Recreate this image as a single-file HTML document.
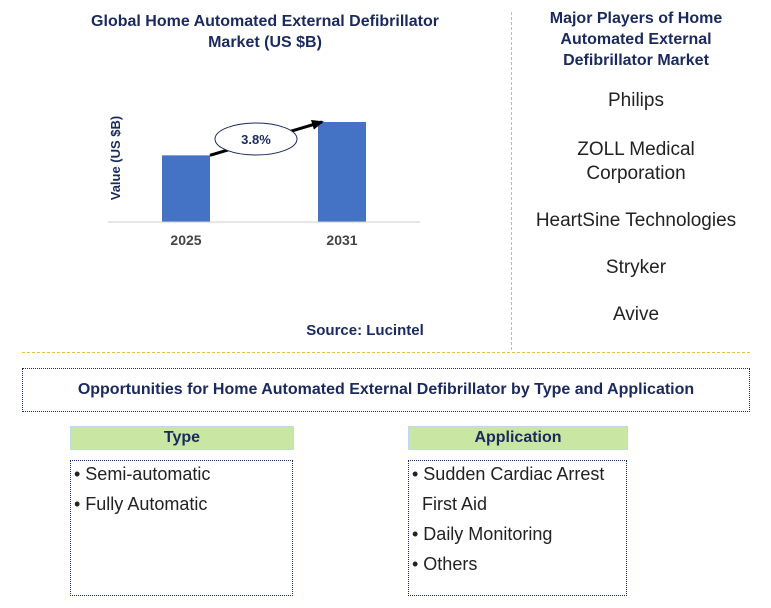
<!DOCTYPE html>
<html><head><meta charset="utf-8"><style>
body{margin:0;width:771px;height:608px;background:#fff;font-family:"Liberation Sans",Arial,sans-serif;position:relative;overflow:hidden}
.a{position:absolute}
.t{color:#1a2a5e;font-weight:bold;text-align:center}
.pl{position:absolute;left:512px;width:248px;text-align:center;font-size:19px;color:#222}
.hd{position:absolute;background:#c9e6a3;border:1px solid #bcd9ee;color:#1a2a5e;font-weight:bold;font-size:16px;text-align:center;line-height:22px;height:22px}
.bx{position:absolute;border:1.5px dotted #1a2a5e;font-size:18px;color:#222;line-height:30px;padding-left:3px;box-sizing:border-box}
</style></head><body>
<div class="a t" style="left:70px;top:11px;width:390px;font-size:16px;line-height:21px">Global Home Automated External Defibrillator<br>Market (US $B)</div>
<svg class="a" style="left:0;top:0" width="511" height="350">
<defs><marker id="ah" markerUnits="userSpaceOnUse" markerWidth="12" markerHeight="10" refX="10" refY="5" orient="auto"><path d="M0,0 L12,5 L0,10z" fill="#000"/></marker></defs>
<g id="g"></g>
<text x="120" y="158" transform="rotate(-90 120 158)" text-anchor="middle" font-size="13" font-weight="bold" fill="#1a2a5e">Value (US $B)</text>
</svg>
<div class="a t" style="left:290px;top:322px;width:150px;font-size:15px">Source: Lucintel</div>
<div class="a" style="left:511px;top:12px;height:338px;border-left:1px dashed #e8c040"></div>
<div class="a" style="left:22px;top:352px;width:728px;border-top:1px dashed #e8c040"></div>
<div class="a t" style="left:520px;top:8px;width:232px;font-size:16px;line-height:21px">Major Players of Home Automated External Defibrillator Market</div>
<div class="pl" style="top:90px">Philips</div>
<div class="pl" style="top:138px;line-height:24px">ZOLL Medical<br>Corporation</div>
<div class="pl" style="top:210px">HeartSine Technologies</div>
<div class="pl" style="top:257px">Stryker</div>
<div class="pl" style="top:304px">Avive</div>
<div class="a t" style="left:22px;top:368px;width:728px;height:44px;box-sizing:border-box;border:1.5px dotted #1a2a5e;font-size:16px;line-height:41px">Opportunities for Home Automated External Defibrillator by Type and Application</div>
<div class="hd" style="left:70px;top:426px;width:222px">Type</div>
<div class="bx" style="left:70px;top:460px;width:223px;height:136px;padding-top:0;line-height:30px"><div style="margin-top:-2px">• Semi-automatic<br>• Fully Automatic</div></div>
<div class="hd" style="left:408px;top:426px;width:218px">Application</div>
<div class="bx" style="left:408px;top:460px;width:219px;height:136px"><div style="margin-top:-2px">• Sudden Cardiac Arrest<br>&nbsp;&nbsp;First Aid<br>• Daily Monitoring<br>• Others</div></div>
<script>
const categories=["2025","2031"];
const values=[2.0,3.0];
const cagr="3.8%";
const ns="http://www.w3.org/2000/svg",g=document.getElementById('g');
const y=v=>222-v/3.0*100, xs=[162,318], bw=48;
function mk(t,a){const e=document.createElementNS(ns,t);for(const k in a)e.setAttribute(k,a[k]);g.appendChild(e);return e;}
categories.forEach((c,i)=>{
 const r=mk('rect',{x:xs[i],y:y(values[i]),width:bw,height:222-y(values[i]),fill:'#4472c4'});
 
 
 const t=mk('text',{x:xs[i]+bw/2,y:245,'text-anchor':'middle','font-size':14,'font-weight':'bold',fill:'#444'});
 t.textContent=c;
 
 
});
const ax=mk('line',{x1:108,x2:420,y1:222,y2:222,stroke:'#ccc'});


const ar=mk('line',{x1:xs[0]+bw,y1:y(values[0]),x2:xs[1]+4,y2:y(values[1]),stroke:'#000','stroke-width':3,'marker-end':'url(#ah)'});


const el=mk('ellipse',{cx:256,cy:139,rx:41,ry:16,fill:'#fff',stroke:'#1a2a5e'});


const ct=mk('text',{x:256,y:144,'text-anchor':'middle','font-size':13,'font-weight':'bold',fill:'#1a2a5e'});
ct.textContent=cagr;


</script>
</body></html>
